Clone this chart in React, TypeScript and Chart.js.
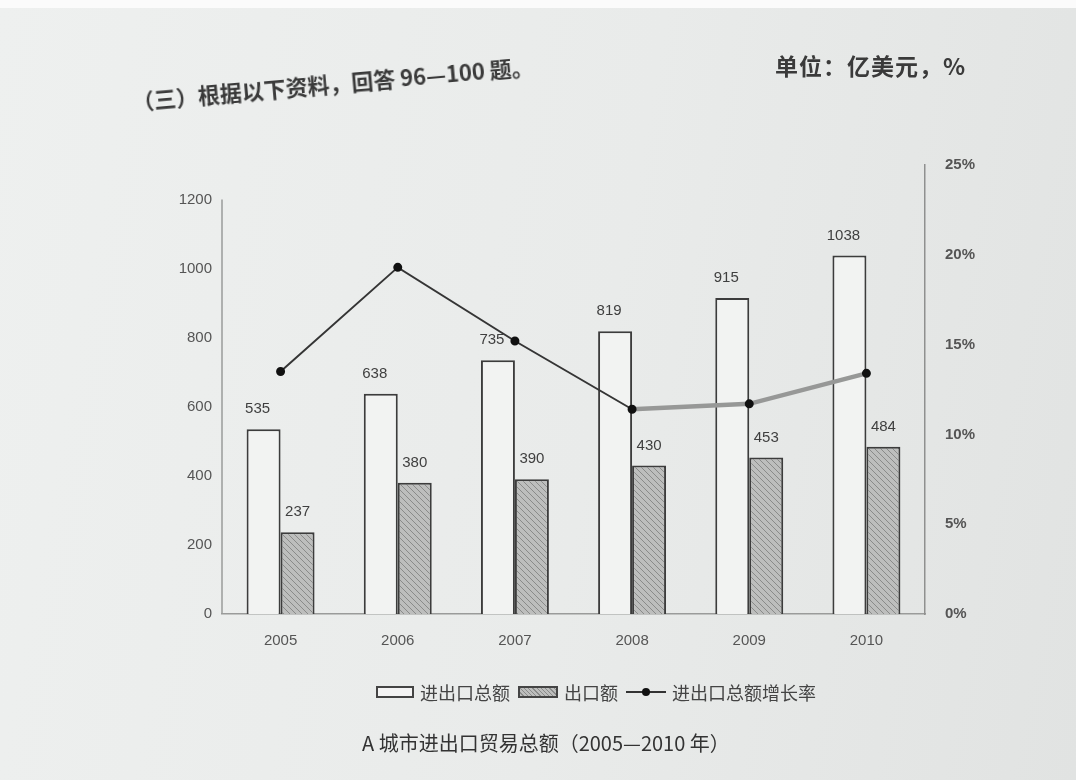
import React, { useEffect, useRef } from 'react';
import { Chart, registerables } from 'chart.js';

Chart.register(...registerables);

const years = ['2005', '2006', '2007', '2008', '2009', '2010'];
const totalTrade = [535, 638, 735, 819, 915, 1038];
const exportValue = [237, 380, 390, 430, 453, 484];
const growthRate = [13.5, 19.3, 15.2, 11.4, 11.7, 13.4];
const leftTickValues = [0, 200, 400, 600, 800, 1000, 1200];
const rightTickValues = [0, 5, 10, 15, 20, 25];

const seriesNames = ['进出口总额', '出口额', '进出口总额增长率'];
const headerText = '（三）根据以下资料，回答 96—100 题。';
const unitText = '单位：亿美元，%';
const captionText = 'A 城市进出口贸易总额（2005—2010 年）';

function makeHatch(): CanvasPattern | string {
  const c = document.createElement('canvas');
  c.width = 6;
  c.height = 6;
  const g = c.getContext('2d');
  if (!g) return '#b0b0b0';
  g.fillStyle = '#bdbebd';
  g.fillRect(0, 0, 6, 6);
  g.strokeStyle = '#8a8b8a';
  g.lineWidth = 1;
  g.beginPath();
  g.moveTo(0, 0);
  g.lineTo(6, 6);
  g.moveTo(-3, 3);
  g.lineTo(3, 9);
  g.moveTo(3, -3);
  g.lineTo(9, 3);
  g.stroke();
  const p = g.createPattern(c, 'repeat');
  return p || '#b0b0b0';
}

const valueLabels = {
  id: 'valueLabels',
  afterDatasetsDraw(chart: any) {
    const ctx = chart.ctx;
    ctx.save();
    ctx.font = '15px "Liberation Sans", Arial, sans-serif';
    ctx.fillStyle = '#3f3f3f';
    ctx.textAlign = 'center';
    ctx.textBaseline = 'middle';
    [0, 1].forEach((di) => {
      const meta = chart.getDatasetMeta(di);
      const data = chart.data.datasets[di].data as number[];
      meta.data.forEach((el: any, i: number) => {
        ctx.fillText(String(data[i]), el.x - (di === 0 ? 6 : 0), el.y - 20);
      });
    });
    ctx.restore();
  },
};

const leftAxisLine = {
  id: 'leftAxisLine',
  afterDraw(chart: any) {
    const y = chart.scales.y;
    const ctx = chart.ctx;
    const x = chart.chartArea.left;
    ctx.save();
    ctx.strokeStyle = '#9a9b9a';
    ctx.lineWidth = 1.5;
    ctx.beginPath();
    ctx.moveTo(x, y.getPixelForValue(leftTickValues[leftTickValues.length - 1]));
    ctx.lineTo(x, y.getPixelForValue(0));
    ctx.stroke();
    ctx.restore();
  },
};

export default function App() {
  const ref = useRef<HTMLCanvasElement | null>(null);

  useEffect(() => {
    document.body.style.margin = '0';
    const canvas = ref.current;
    if (!canvas) return;
    const hatch = makeHatch();
    const tickFont = { family: '"Liberation Sans", Arial, sans-serif', size: 15 };
    const chart = new Chart(canvas, {
      type: 'bar',
      data: {
        labels: years,
        datasets: [
          {
            type: 'bar',
            label: seriesNames[0],
            data: totalTrade,
            backgroundColor: '#f2f3f2',
            borderColor: '#3c3c3c',
            borderWidth: 2,
            yAxisID: 'y',
            order: 2,
            categoryPercentage: 0.58,
            barPercentage: 1.0,
          } as any,
          {
            type: 'bar',
            label: seriesNames[1],
            data: exportValue,
            backgroundColor: hatch as any,
            borderColor: '#3c3c3c',
            borderWidth: 2,
            yAxisID: 'y',
            order: 2,
            categoryPercentage: 0.58,
            barPercentage: 1.0,
          } as any,
          {
            type: 'line',
            label: seriesNames[2],
            data: growthRate,
            yAxisID: 'y1',
            borderColor: '#353535',
            borderWidth: 2,
            pointRadius: 3.5,
            pointBackgroundColor: '#111',
            pointBorderColor: '#111',
            tension: 0,
            order: 0,
            segment: {
              borderColor: (c: any) => (c.p0DataIndex >= 3 ? '#979897' : '#353535'),
              borderWidth: (c: any) => (c.p0DataIndex >= 3 ? 4.5 : 2),
            },
          } as any,
        ],
      },
      options: {
        responsive: false,
        animation: false,
        devicePixelRatio: 1,
        layout: { padding: { left: 162, right: 91, top: 165, bottom: 126 } },
        plugins: {
          legend: { display: false },
          tooltip: { enabled: false },
          title: { display: false },
        },
        scales: {
          x: {
            offset: true,
            grid: { display: false, drawTicks: false },
            border: { display: true, color: '#9a9b9a', width: 1.5 },
            ticks: {
              color: '#555',
              font: { family: '"Liberation Sans", Arial, sans-serif', size: 15 },
              padding: 18,
            },
            afterFit: (s: any) => {
              s.height = 40;
            },
          },
          y: {
            position: 'left',
            min: 0,
            max: 1300,
            grid: { display: false, drawTicks: false },
            border: { display: false },
            ticks: {
              color: '#555',
              font: tickFont,
              padding: 10,
              stepSize: 200,
              callback: (v: any) => String(v),
            },
            afterBuildTicks: (s: any) => {
              s.ticks = leftTickValues.map((v) => ({ value: v }));
            },
            afterFit: (s: any) => {
              s.width = 60;
            },
          },
          y1: {
            position: 'right',
            min: 0,
            max: 25,
            grid: { display: false, drawTicks: false },
            border: { display: true, color: '#8f908f', width: 1.5 },
            ticks: {
              color: '#555',
              font: { ...tickFont, weight: 'bold' },
              padding: 20,
              callback: (v: any) => `${v}%`,
            },
            afterBuildTicks: (s: any) => {
              s.ticks = rightTickValues.map((v) => ({ value: v }));
            },
            afterFit: (s: any) => {
              s.width = 60;
            },
          },
        },
      } as any,
      plugins: [valueLabels, leftAxisLine],
    });
    return () => chart.destroy();
  }, []);

  const cjk = '"Noto Sans CJK SC", "Noto Sans", sans-serif';
  const legendText: React.CSSProperties = {
    fontFamily: cjk,
    fontSize: 18,
    color: '#444',
    marginRight: 8,
    lineHeight: '22px',
  };

  return (
    <div
      style={{
        position: 'fixed',
        left: 0,
        top: 0,
        width: 1076,
        height: 780,
        overflow: 'hidden',
        background: 'linear-gradient(100deg, #eef0ef 0%, #e9ebea 55%, #e1e3e2 100%)',
      }}
    >
      <div style={{ position: 'absolute', left: 0, top: 0, width: 1076, height: 8, background: '#fbfbfb' }} />
      <canvas
        ref={ref}
        width={1076}
        height={780}
        style={{ position: 'absolute', left: 0, top: 0, width: 1076, height: 780 }}
      />
      <div
        style={{
          position: 'absolute',
          left: 132,
          top: 86,
          fontFamily: cjk,
          fontSize: 22,
          fontWeight: 700,
          color: '#3a3a3a',
          whiteSpace: 'nowrap',
          transform: 'rotate(-5deg)',
          transformOrigin: 'left center',
          lineHeight: '28px',
        }}
      >
        {headerText}
      </div>
      <div
        style={{
          position: 'absolute',
          left: 775,
          top: 50,
          fontFamily: cjk,
          fontSize: 23,
          fontWeight: 700,
          color: '#3a3a3a',
          whiteSpace: 'nowrap',
          letterSpacing: 1,
          lineHeight: '30px',
        }}
      >
        {unitText}
      </div>
      <div
        style={{
          position: 'absolute',
          left: 376,
          top: 681,
          display: 'flex',
          alignItems: 'center',
          whiteSpace: 'nowrap',
        }}
      >
        <div style={{ width: 34, height: 8, border: '2px solid #444', background: '#f4f4f4', marginRight: 6 }} />
        <span style={legendText}>{seriesNames[0]}</span>
        <div
          style={{
            width: 36,
            height: 8,
            border: '2px solid #444',
            background: 'repeating-linear-gradient(45deg, #bdbebd 0px, #bdbebd 2px, #8a8b8a 2px, #8a8b8a 3px)',
            marginRight: 6,
          }}
        />
        <span style={legendText}>{seriesNames[1]}</span>
        <div style={{ position: 'relative', width: 40, height: 22, marginRight: 6 }}>
          <div style={{ position: 'absolute', left: 0, top: 10, width: 40, height: 2, background: '#333' }} />
          <div
            style={{
              position: 'absolute',
              left: 16,
              top: 7,
              width: 8,
              height: 8,
              borderRadius: 4,
              background: '#111',
            }}
          />
        </div>
        <span style={legendText}>{seriesNames[2]}</span>
      </div>
      <div
        style={{
          position: 'absolute',
          left: 362,
          top: 729,
          fontFamily: cjk,
          fontSize: 20,
          color: '#333',
          whiteSpace: 'nowrap',
          lineHeight: '28px',
        }}
      >
        {captionText}
      </div>
    </div>
  );
}
